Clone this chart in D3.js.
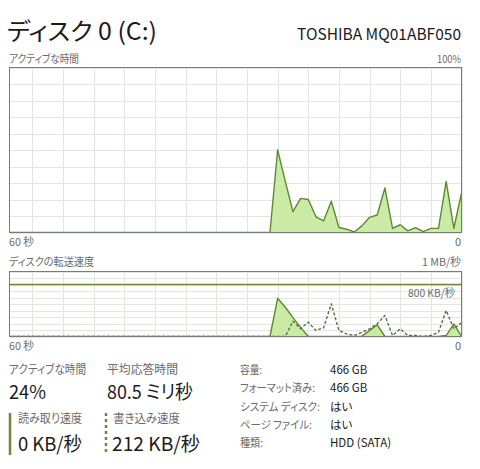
<!DOCTYPE html>
<html><head><meta charset="utf-8">
<script src="https://cdn.jsdelivr.net/npm/d3@7"></script>
<style>
html,body{margin:0;padding:0;background:#fff;}
svg text{font-family:"Noto Sans CJK JP","Noto Sans",sans-serif;font-feature-settings:"palt" 1;}
</style></head>
<body><svg id="c" width="480" height="469"></svg>
<script>
// ---- data (index 0 = now, index k = k seconds ago) ----
const activeTime = [24, 2.5, 31, 2.5, 2.5, 0.5, 3, 1, 4.7, 2.5, 27, 10.6, 9.2, 4, 0.3, 2, 3, 19, 7, 9.5, 20, 20.7, 12.6, 31, 50, 0,
  0,0,0,0,0,0,0,0,0,0,0,0,0,0,0,0,0,0,0,0,0,0,0,0,0,0,0,0,0,0,0,0,0,0];
const readKB = [0, 195, 15, 0, 0, 0, 0, 0, 0, 0, 0, 180, 90, 5, 0, 0, 0, 0, 0, 0, 0, 140, 290, 450, 588, 0,
  0,0,0,0,0,0,0,0,0,0,0,0,0,0,0,0,0,0,0,0,0,0,0,0,0,0,0,0,0,0,0,0,0,0];
const writeKB = [212, 118, 400, 66, 15, 0, 15, 15, 118, 15, 323, 195, 118, 66, 15, 40, 92, 503, 134, 92, 220, 118, 235, 0, 0, 0,
  0,0,0,0,0,0,0,0,0,0,0,0,0,0,0,0,0,0,0,0,0,0,0,0,0,0,0,0,0,0,0,0,0,0];
const timeLabels = ["60 秒", "0"];
const activeMaxLabel = "100%";
const transferMaxLabel = "1 MB/秒";
const transferLineKB = 800;
const transferLineLabel = "800 KB/秒";
const statLabels = ["アクティブな時間", "平均応答時間"];
const statValues = ["24%", "80.5 ミリ秒"];
const rwLabels = ["読み取り速度", "書き込み速度"];
const rwValues = ["0 KB/秒", "212 KB/秒"];
const infoLabels = ["容量:", "フォーマット済み:", "システム ディスク:", "ページ ファイル:", "種類:"];
const infoValues = ["466 GB", "466 GB", "はい", "はい", "HDD (SATA)"];

// ---- styles ----
const LINE = "#5c8a30", FILL = "#cbeaa6", GRID = "#e3e6e0", BORDER = "#7a7a7a", GRAY = "#6b6b6b", DARK = "#1a1a1a";

const svg = d3.select("#c");
const L = 9.5, R = 461.5;
const x = d3.scaleLinear().domain([59, 0]).range([L, R]);

function chart(top, bottom, maxV, series) {
  const y = d3.scaleLinear().domain([0, maxV]).range([bottom, top]);
  const g = svg.append("g");
  g.append("g").selectAll("line").data(d3.range(0, 60, 4)).join("line")
    .attr("x1", d => Math.round(x(d)) + 0.5).attr("x2", d => Math.round(x(d)) + 0.5)
    .attr("y1", top).attr("y2", bottom).attr("stroke", GRID).attr("stroke-width", 1);
  g.append("g").selectAll("line").data(y.ticks(10)).join("line")
    .attr("x1", L).attr("x2", R)
    .attr("y1", d => Math.round(y(d)) + 0.5).attr("y2", d => Math.round(y(d)) + 0.5)
    .attr("stroke", GRID).attr("stroke-width", 1);
  const clipId = "clip" + Math.round(top);
  svg.append("clipPath").attr("id", clipId).append("rect")
    .attr("x", L).attr("y", top).attr("width", R - L).attr("height", bottom - top);
  const pg = g.append("g").attr("clip-path", `url(#${clipId})`);
  series.forEach(s => {
    const pts = s.data.map((v, k) => [k, v]);
    if (s.fill) {
      pg.append("path").datum(pts)
        .attr("d", d3.area().x(d => x(d[0])).y0(y(0)).y1(d => y(d[1])))
        .attr("fill", FILL).attr("stroke", "none");
    }
  });
  series.forEach(s => {
    const pts = s.data.map((v, k) => [k, v]);
    pg.append("path").datum(pts)
      .attr("d", d3.line().x(d => x(d[0])).y(d => y(d[1])))
      .attr("fill", "none").attr("stroke", s.dash ? "#5a6e3c" : LINE).attr("stroke-width", 1.4)
      .attr("stroke-linejoin", "round")
      .attr("stroke-dasharray", s.dash ? "3,2" : null);
  });
  return {g, y};
}

function text(t, xx, yy, size, color, anchor, width) {
  const el = svg.append("text").attr("x", xx).attr("y", yy).attr("font-size", size)
    .attr("fill", color).attr("text-anchor", anchor || "start").text(t);
  if (width) el.attr("textLength", width).attr("lengthAdjust", "spacingAndGlyphs");
  return el;
}

// header
text("ディスク 0 (C:)", 7, 40, 24, DARK, "start", 150);
text("TOSHIBA MQ01ABF050", 461, 40, 15.5, DARK, "end", 164);

// chart 1
text(statLabels[0], 9, 63, 11, GRAY, "start", 70);
text(activeMaxLabel, 461, 63, 11, GRAY, "end", 24);
const c1 = chart(67.5, 232.5, 100, [{data: activeTime, fill: true}]);
c1.g.append("rect").attr("x", L).attr("y", 67.5).attr("width", R - L).attr("height", 232.5 - 67.5)
  .attr("fill", "none").attr("stroke", BORDER).attr("stroke-width", 1);
text(timeLabels[0], 9, 246, 11, GRAY, "start", 25);
text(timeLabels[1], 461, 246, 11, GRAY, "end");

// chart 2
text("ディスクの転送速度", 9, 266, 11, GRAY, "start", 85);
text(transferMaxLabel, 461, 266, 11, GRAY, "end", 39);
const c2 = chart(271.5, 336.5, 1000, [{data: readKB, fill: true}, {data: writeKB, fill: false, dash: true}]);
c2.g.append("line").attr("x1", L).attr("x2", R)
  .attr("y1", c2.y(transferLineKB)).attr("y2", c2.y(transferLineKB))
  .attr("stroke", "#6a8a34").attr("stroke-width", 1.5);
text(transferLineLabel, 455, 297, 11, GRAY, "end", 47);
c2.g.append("rect").attr("x", L).attr("y", 271.5).attr("width", R - L).attr("height", 336.5 - 271.5)
  .attr("fill", "none").attr("stroke", BORDER).attr("stroke-width", 1);
text(timeLabels[0], 9, 350, 11, GRAY, "start", 25);
text(timeLabels[1], 461, 350, 11, GRAY, "end");

// stats
text(statLabels[0], 9, 374, 12, GRAY, "start", 77);
text(statValues[0], 9, 399, 19, DARK, "start", 37);
text(statLabels[1], 107, 374, 12, GRAY, "start", 71);
text(statValues[1], 107, 399, 19, DARK, "start", 86);

svg.append("line").attr("x1", 10).attr("x2", 10).attr("y1", 413).attr("y2", 455)
  .attr("stroke", "#6a8a34").attr("stroke-width", 2.5);
svg.append("line").attr("x1", 106).attr("x2", 106).attr("y1", 413).attr("y2", 455)
  .attr("stroke", "#6a8a34").attr("stroke-width", 2.5).attr("stroke-dasharray", "3,3");
text(rwLabels[0], 18, 423, 12, GRAY, "start", 64);
text(rwValues[0], 18, 451, 19, DARK, "start", 64);
text(rwLabels[1], 113, 423, 12, GRAY, "start", 67);
text(rwValues[1], 112, 451, 19, DARK, "start", 88);

const infoLabelW = [22, 75, 80, 72, 23];
infoLabels.forEach((t, i) => {
  text(t, 240, 374 + i * 18.3, 11, GRAY, "start", infoLabelW[i]);
  text(infoValues[i], 330, 374 + i * 18.3, 11.5, DARK, "start");
});
</script></body></html>
